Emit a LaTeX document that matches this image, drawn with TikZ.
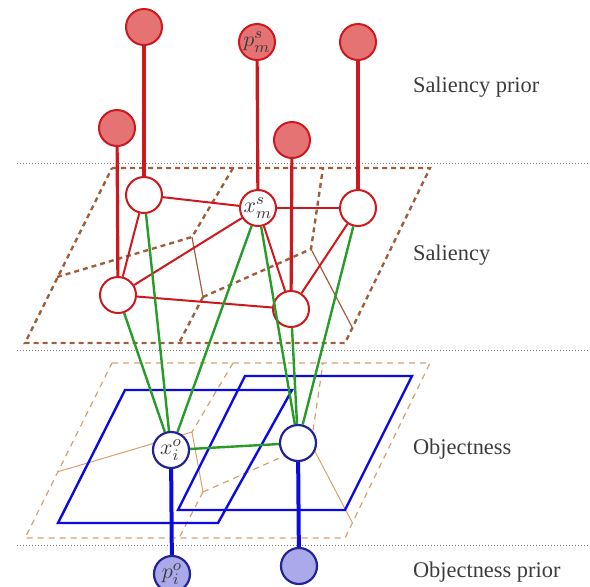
\documentclass[tikz,border=0pt]{standalone}
\usepackage{fontspec}
\setmainfont{Liberation Serif}
\definecolor{salred}{RGB}{205,25,30}
\definecolor{salfill}{RGB}{230,115,115}
\definecolor{objblue}{RGB}{10,10,225}
\definecolor{objnode}{RGB}{35,35,150}
\definecolor{objfill}{RGB}{170,170,235}
\definecolor{linkgreen}{RGB}{40,155,40}
\definecolor{gridbrown}{RGB}{160,95,60}
\definecolor{gridorange}{RGB}{215,160,110}
\definecolor{labelgray}{RGB}{60,60,60}
\begin{document}
\begin{tikzpicture}[x=0.5pt,y=-0.5pt,
  sal/.style={circle,draw=salred,line width=1pt,fill=white,minimum size=18pt,inner sep=0pt,text=labelgray,font=\fontsize{11}{13}\selectfont},
  salprior/.style={sal,fill=salfill},
  obj/.style={circle,draw=objnode,line width=1.1pt,fill=white,minimum size=18pt,inner sep=0pt,text=labelgray,font=\fontsize{11}{13}\selectfont},
  objprior/.style={obj,fill=objfill},
  layertext/.style={anchor=west,text=labelgray,font=\fontsize{11.2}{13}\selectfont},
  sepline/.style={densely dotted,gray,line width=0.5pt},
  salgrid/.style={gridbrown,line width=1.2pt,dash pattern=on 2.5pt off 2pt},
  salcut/.style={gridbrown,line width=0.6pt},
  objgrid/.style={gridorange,line width=0.6pt,dash pattern=on 3pt off 2.5pt},
  objcut/.style={gridorange,line width=0.5pt},
  window/.style={objblue,line width=1.2pt},
  saledge/.style={salred,line width=1pt},
  salstem/.style={salred,line width=1.6pt},
  objstem/.style={objblue,line width=2pt},
  link/.style={linkgreen,line width=1.2pt}]
\useasboundingbox (0,0) rectangle (590,586);

\draw[sepline] (17,163) -- (590,163);
\draw[sepline] (17,350) -- (590,350);
\draw[sepline] (17,545) -- (590,545);

\draw[salgrid] (112,168) -- (430,168) -- (345,343) -- (25,343) -- cycle;
\draw[salgrid] (233,168) -- (192,237);
\draw[salgrid] (203,297) -- (179,343);
\draw[salgrid] (57,277) -- (192,237);
\draw[salgrid] (203,297) -- (311,249) -- (323,168);
\draw[salcut] (192,237) -- (203,297);
\draw[salcut] (311,249) -- (352,327);

\draw[objgrid] (112,363) -- (430,363) -- (345,538) -- (25,538) -- cycle;
\draw[objgrid] (233,363) -- (192,432);
\draw[objgrid] (203,492) -- (179,538);
\draw[objcut] (57,472) -- (192,432) -- (203,492);
\draw[objgrid] (203,492) -- (311,444) -- (323,363);
\draw[objcut] (311,444) -- (352,522);

\draw[window] (125,390) -- (292,390) -- (218,523) -- (58,523) -- cycle;
\draw[window] (245,376) -- (412,376) -- (345,510) -- (178,510) -- cycle;

\node[salprior] (p1) at (144,27) {};
\node[salprior] (p2) at (257,42) {$p_m^s$};
\node[salprior] (p3) at (358,42) {};
\node[salprior] (p4) at (117,128) {};
\node[salprior] (p5) at (292,140) {};

\node[sal] (s1) at (144,195) {};
\node[sal] (s2) at (258,208) {$x_m^s$};
\node[sal] (s3) at (358,208) {};
\node[sal] (s4) at (118,295) {};
\node[sal] (s5) at (291,309) {};

\node[obj] (o1) at (171,450) {$x_i^o$};
\node[obj] (o2) at (298,443) {};
\node[objprior] (q1) at (172,574) {$p_i^o$};
\node[objprior] (q2) at (299,566) {};

\draw[salstem] (p1) -- (s1);
\draw[salstem] (p2) -- (s2);
\draw[salstem] (p3) -- (s3);
\draw[salstem] (p4) -- (s4);
\draw[salstem] (p5) -- (s5);

\draw[saledge] (s1) -- (s2);
\draw[saledge] (s2) -- (s3);
\draw[saledge] (s1) -- (s4);
\draw[saledge] (s2) -- (s4);
\draw[saledge] (s4) -- (s5);
\draw[saledge] (s2) -- (s5);
\draw[saledge] (s3) -- (s5);

\draw[link] (s1) -- (o1);
\draw[link] (s4) -- (o1);
\draw[link] (s2) -- (o1);
\draw[link] (s2) -- (o2);
\draw[link] (s5) -- (o2);
\draw[link] (s3) -- (o2);
\draw[link] (o1) -- (o2);

\draw[objstem] (o1) -- (q1);
\draw[objstem] (o2) -- (q2);

\node[layertext] (tsp) at (406,87) {Saliency prior};
\node[layertext] (ts) at (406,255) {Saliency};
\node[layertext] (to) at (406,449) {Objectness};
\node[layertext] (top) at (406,572) {Objectness prior};
\end{tikzpicture}
\end{document}
